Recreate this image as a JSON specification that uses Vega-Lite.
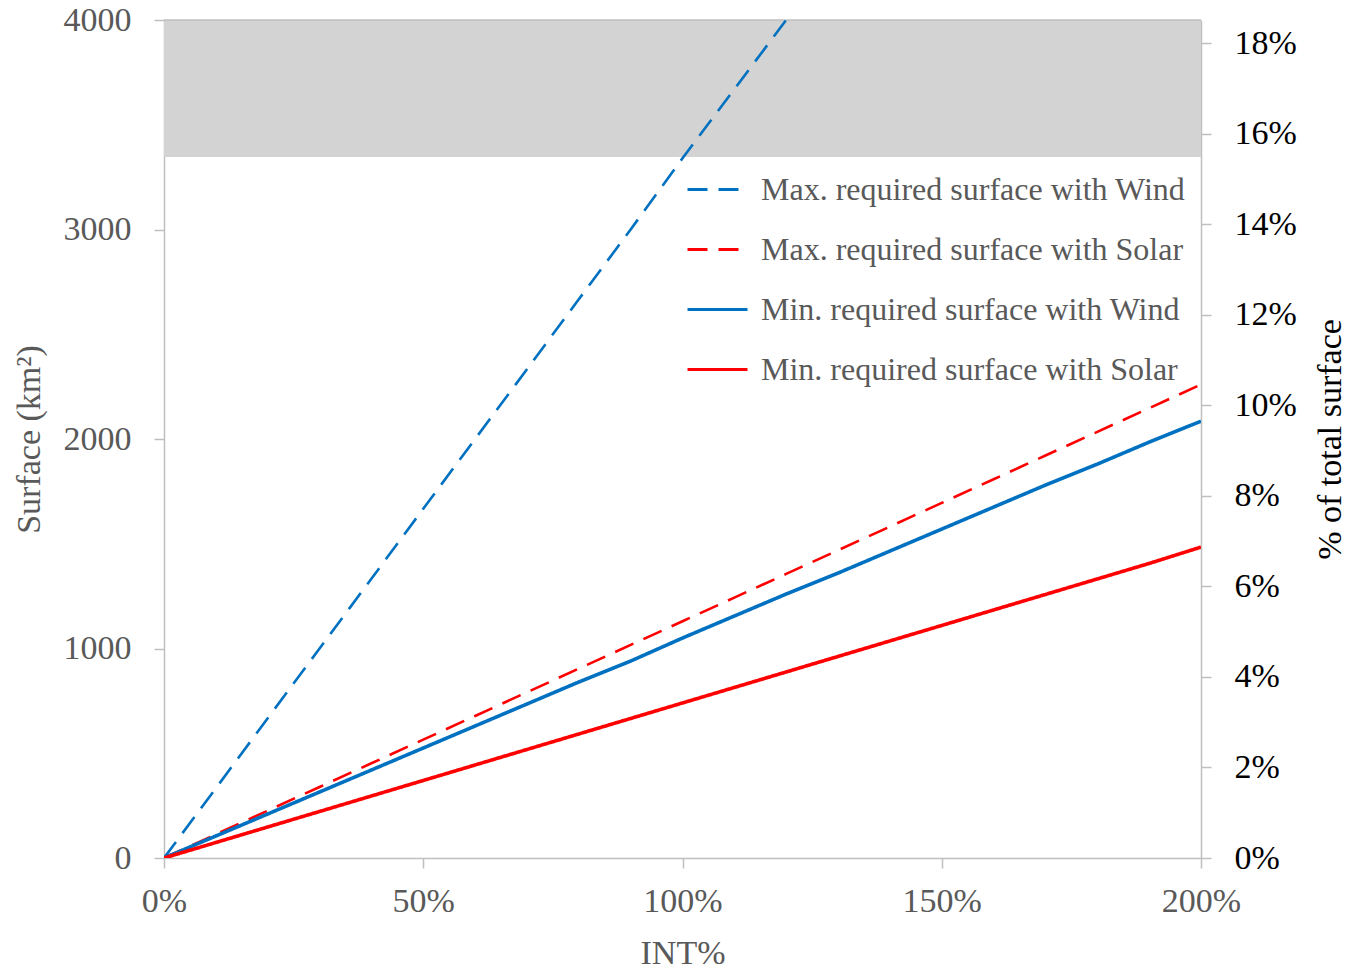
{
  "$schema": "https://vega.github.io/schema/vega-lite/v6.json",
  "autosize": {"type": "none"},
  "width": 1037,
  "height": 838,
  "padding": {"left": 164, "top": 20, "right": 153, "bottom": 113},
  "background": "white",
  "config": {
    "font": "Liberation Serif",
    "view": {"stroke": null},
    "axis": {"grid": false, "domainColor": "#bfbfbf", "tickColor": "#bfbfbf", "domainWidth": 1.5, "tickWidth": 1.5}
  },
  "datasets": {
    "series": [
      {"int": 0, "surface": 0, "series": "Max. required surface with Wind"},
      {"int": 10, "surface": 333, "series": "Max. required surface with Wind"},
      {"int": 20, "surface": 667, "series": "Max. required surface with Wind"},
      {"int": 30, "surface": 1000, "series": "Max. required surface with Wind"},
      {"int": 40, "surface": 1333, "series": "Max. required surface with Wind"},
      {"int": 50, "surface": 1667, "series": "Max. required surface with Wind"},
      {"int": 60, "surface": 2000, "series": "Max. required surface with Wind"},
      {"int": 70, "surface": 2333, "series": "Max. required surface with Wind"},
      {"int": 80, "surface": 2667, "series": "Max. required surface with Wind"},
      {"int": 90, "surface": 3000, "series": "Max. required surface with Wind"},
      {"int": 100, "surface": 3340, "series": "Max. required surface with Wind"},
      {"int": 110, "surface": 3670, "series": "Max. required surface with Wind"},
      {"int": 120, "surface": 4000, "series": "Max. required surface with Wind"},
      {"int": 0, "surface": 0, "series": "Max. required surface with Solar"},
      {"int": 10, "surface": 113, "series": "Max. required surface with Solar"},
      {"int": 20, "surface": 226, "series": "Max. required surface with Solar"},
      {"int": 30, "surface": 339, "series": "Max. required surface with Solar"},
      {"int": 40, "surface": 452, "series": "Max. required surface with Solar"},
      {"int": 50, "surface": 565, "series": "Max. required surface with Solar"},
      {"int": 60, "surface": 678, "series": "Max. required surface with Solar"},
      {"int": 70, "surface": 791, "series": "Max. required surface with Solar"},
      {"int": 80, "surface": 904, "series": "Max. required surface with Solar"},
      {"int": 90, "surface": 1017, "series": "Max. required surface with Solar"},
      {"int": 100, "surface": 1130, "series": "Max. required surface with Solar"},
      {"int": 110, "surface": 1243, "series": "Max. required surface with Solar"},
      {"int": 120, "surface": 1356, "series": "Max. required surface with Solar"},
      {"int": 130, "surface": 1469, "series": "Max. required surface with Solar"},
      {"int": 140, "surface": 1582, "series": "Max. required surface with Solar"},
      {"int": 150, "surface": 1695, "series": "Max. required surface with Solar"},
      {"int": 160, "surface": 1808, "series": "Max. required surface with Solar"},
      {"int": 170, "surface": 1921, "series": "Max. required surface with Solar"},
      {"int": 180, "surface": 2034, "series": "Max. required surface with Solar"},
      {"int": 190, "surface": 2147, "series": "Max. required surface with Solar"},
      {"int": 200, "surface": 2260, "series": "Max. required surface with Solar"},
      {"int": 0, "surface": 0, "series": "Min. required surface with Wind"},
      {"int": 10, "surface": 105, "series": "Min. required surface with Wind"},
      {"int": 20, "surface": 210, "series": "Min. required surface with Wind"},
      {"int": 30, "surface": 315, "series": "Min. required surface with Wind"},
      {"int": 40, "surface": 420, "series": "Min. required surface with Wind"},
      {"int": 50, "surface": 525, "series": "Min. required surface with Wind"},
      {"int": 60, "surface": 630, "series": "Min. required surface with Wind"},
      {"int": 70, "surface": 735, "series": "Min. required surface with Wind"},
      {"int": 80, "surface": 840, "series": "Min. required surface with Wind"},
      {"int": 90, "surface": 940, "series": "Min. required surface with Wind"},
      {"int": 100, "surface": 1050, "series": "Min. required surface with Wind"},
      {"int": 110, "surface": 1155, "series": "Min. required surface with Wind"},
      {"int": 120, "surface": 1260, "series": "Min. required surface with Wind"},
      {"int": 130, "surface": 1360, "series": "Min. required surface with Wind"},
      {"int": 140, "surface": 1465, "series": "Min. required surface with Wind"},
      {"int": 150, "surface": 1570, "series": "Min. required surface with Wind"},
      {"int": 160, "surface": 1675, "series": "Min. required surface with Wind"},
      {"int": 170, "surface": 1780, "series": "Min. required surface with Wind"},
      {"int": 180, "surface": 1880, "series": "Min. required surface with Wind"},
      {"int": 190, "surface": 1985, "series": "Min. required surface with Wind"},
      {"int": 200, "surface": 2085, "series": "Min. required surface with Wind"},
      {"int": 0, "surface": 0, "series": "Min. required surface with Solar"},
      {"int": 10, "surface": 74, "series": "Min. required surface with Solar"},
      {"int": 20, "surface": 148, "series": "Min. required surface with Solar"},
      {"int": 30, "surface": 222, "series": "Min. required surface with Solar"},
      {"int": 40, "surface": 296, "series": "Min. required surface with Solar"},
      {"int": 50, "surface": 370, "series": "Min. required surface with Solar"},
      {"int": 60, "surface": 444, "series": "Min. required surface with Solar"},
      {"int": 70, "surface": 518, "series": "Min. required surface with Solar"},
      {"int": 80, "surface": 592, "series": "Min. required surface with Solar"},
      {"int": 90, "surface": 666, "series": "Min. required surface with Solar"},
      {"int": 100, "surface": 740, "series": "Min. required surface with Solar"},
      {"int": 110, "surface": 814, "series": "Min. required surface with Solar"},
      {"int": 120, "surface": 888, "series": "Min. required surface with Solar"},
      {"int": 130, "surface": 962, "series": "Min. required surface with Solar"},
      {"int": 140, "surface": 1036, "series": "Min. required surface with Solar"},
      {"int": 150, "surface": 1110, "series": "Min. required surface with Solar"},
      {"int": 160, "surface": 1184, "series": "Min. required surface with Solar"},
      {"int": 170, "surface": 1258, "series": "Min. required surface with Solar"},
      {"int": 180, "surface": 1332, "series": "Min. required surface with Solar"},
      {"int": 190, "surface": 1406, "series": "Min. required surface with Solar"},
      {"int": 200, "surface": 1484, "series": "Min. required surface with Solar"}
    ],
    "band": [{"x0": 0, "x1": 200, "y0": 3346, "y1": 4000}],
    "pctaxis": [{"pct": 0}, {"pct": 0.18}]
  },
  "layer": [
    {
      "layer": [
        {
          "data": {"name": "band"},
          "mark": {"type": "rect", "color": "#d3d3d3"},
          "encoding": {
            "x": {
              "field": "x0", "type": "quantitative",
              "scale": {"domain": [0, 200], "nice": false},
              "axis": {
                "values": [0, 50, 100, 150, 200],
                "labelExpr": "datum.value + '%'",
                "title": "INT%",
                "titleFontSize": 34, "titleFontWeight": "normal", "titleColor": "#595959",
                "titlePadding": 18,
                "labelFontSize": 34, "labelColor": "#595959", "labelPadding": 16,
                "tickSize": 10, "labelFlush": false
              }
            },
            "x2": {"field": "x1"},
            "y": {
              "field": "y0", "type": "quantitative",
              "scale": {"domain": [0, 4000], "nice": false},
              "axis": {
                "values": [0, 1000, 2000, 3000, 4000],
                "format": "d",
                "title": "Surface (km²)",
                "titleFontSize": 34, "titleFontWeight": "normal", "titleColor": "#595959",
                "titlePadding": 17,
                "labelFontSize": 34, "labelColor": "#595959", "labelPadding": 23,
                "tickSize": 10
              }
            },
            "y2": {"field": "y1"}
          }
        },
        {
          "data": {"name": "band"},
          "mark": {"type": "rule", "color": "#bfbfbf", "strokeWidth": 1.5},
          "encoding": {
            "x": {"field": "x0", "type": "quantitative"},
            "x2": {"field": "x1"},
            "y": {"field": "y1", "type": "quantitative"}
          }
        },
        {
          "data": {"name": "series"},
          "transform": [{"filter": "indexof(datum.series, 'Max') == 0"}],
          "mark": {"type": "line", "clip": true, "strokeWidth": 2.6},
          "encoding": {
            "x": {"field": "int", "type": "quantitative"},
            "y": {"field": "surface", "type": "quantitative"},
            "color": {"field": "series", "type": "nominal"},
            "strokeDash": {"field": "series", "type": "nominal"}
          }
        },
        {
          "data": {"name": "series"},
          "transform": [{"filter": "indexof(datum.series, 'Min') == 0"}],
          "mark": {"type": "line", "clip": true, "strokeWidth": 3.6},
          "encoding": {
            "x": {"field": "int", "type": "quantitative"},
            "y": {"field": "surface", "type": "quantitative"},
            "color": {
              "field": "series", "type": "nominal",
              "scale": {
                "domain": ["Max. required surface with Wind", "Max. required surface with Solar", "Min. required surface with Wind", "Min. required surface with Solar"],
                "range": ["#0070c0", "#ff0000", "#0070c0", "#ff0000"]
              },
              "legend": {
                "title": null,
                "orient": "none",
                "legendX": 522,
                "legendY": 138,
                "padding": 0,
                "symbolType": "stroke",
                "symbolSize": 3600,
                "symbolStrokeWidth": 3,
                "labelFontSize": 32,
                "labelColor": "#595959",
                "labelOffset": 12,
                "rowPadding": 12,
                "labelLimit": 600
              }
            },
            "strokeDash": {
              "field": "series", "type": "nominal",
              "scale": {
                "domain": ["Max. required surface with Wind", "Max. required surface with Solar", "Min. required surface with Wind", "Min. required surface with Solar"],
                "range": [[20, 11], [20, 11], [1, 0], [1, 0]]
              },
              "legend": {
                "title": null,
                "orient": "none",
                "legendX": 522,
                "legendY": 138,
                "padding": 0,
                "symbolType": "stroke",
                "symbolSize": 3600,
                "symbolStrokeWidth": 3,
                "labelFontSize": 32,
                "labelColor": "#595959",
                "labelOffset": 12,
                "rowPadding": 12,
                "labelLimit": 600
              }
            }
          }
        }
      ]
    },
    {
      "data": {"name": "pctaxis"},
      "mark": {"type": "point", "opacity": 0},
      "encoding": {
        "y": {
          "field": "pct", "type": "quantitative",
          "scale": {"domain": [0, 0.185185], "nice": false},
          "axis": {
            "orient": "right",
            "values": [0, 0.02, 0.04, 0.06, 0.08, 0.1, 0.12, 0.14, 0.16, 0.18],
            "format": ".0%",
            "title": "% of total surface",
            "titleAngle": 270,
            "titleX": 129,
            "titleY": 419,
            "titleAlign": "center",
            "titleBaseline": "middle",
            "titleFontSize": 34, "titleFontWeight": "normal", "titleColor": "black",
            "labelFontSize": 34, "labelColor": "black", "labelPadding": 23,
            "tickSize": 10
          }
        }
      }
    }
  ],
  "resolve": {"scale": {"y": "independent"}}
}
